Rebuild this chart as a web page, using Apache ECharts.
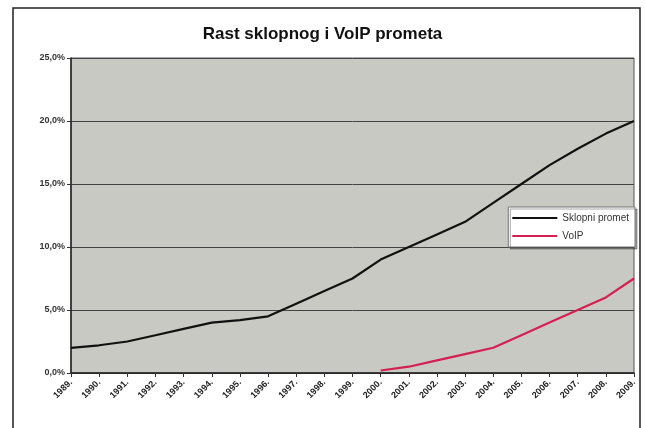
<!DOCTYPE html>
<html>
<head>
<meta charset="utf-8">
<script src="https://cdn.jsdelivr.net/npm/echarts@6/dist/echarts.min.js"></script>
<style>
  html, body { margin: 0; padding: 0; background: #fff; }
  #main { width: 645px; height: 428px; }
</style>
</head>
<body>
<div id="main"></div>
<script>
// godine na x osi
var years = ['1989.', '1990.', '1991.', '1992.', '1993.', '1994.', '1995.', '1996.', '1997.', '1998.',
  '1999.', '2000.', '2001.', '2002.', '2003.', '2004.', '2005.', '2006.', '2007.', '2008.', '2009.'];

// udio prometa u %
var sklopni = [2.0, 2.2, 2.5, 3.0, 3.5, 4.0, 4.2, 4.5, 5.5, 6.5,
  7.5, 9.0, 10.0, 11.0, 12.0, 13.5, 15.0, 16.5, 17.8, 19.0, 20.0];
var voip = ['-', '-', '-', '-', '-', '-', '-', '-', '-', '-',
  '-', 0.2, 0.5, 1.0, 1.5, 2.0, 3.0, 4.0, 5.0, 6.0, 7.5];

var myChart = echarts.init(document.getElementById('main'));

myChart.setOption({
  backgroundColor: '#ffffff',
  animation: false,
  title: {
    text: 'Rast sklopnog i VolP prometa',
    left: 'center',
    top: 21,
    textStyle: {
      fontFamily: 'Liberation Sans',
      fontWeight: 'bold',
      fontSize: 17,
      color: '#111'
    }
  },
  graphic: [
    {
      type: 'rect',
      shape: { x: 13, y: 8, width: 627, height: 440 },
      style: { fill: 'none', stroke: '#222', lineWidth: 1.5 },
      z: 0
    }
  ],
  legend: {
    right: 10,
    top: 207,
    orient: 'vertical',
    itemWidth: 45,
    itemHeight: 2,
    itemGap: 8,
    padding: [6, 6, 6, 4],
    backgroundColor: '#ffffff',
    borderColor: '#777',
    borderWidth: 1,
    shadowColor: 'rgba(0,0,0,0.35)',
    shadowOffsetX: 2,
    shadowOffsetY: 2,
    icon: 'rect',
    textStyle: { fontFamily: 'Liberation Sans', fontSize: 10, color: '#333' },
    data: ['Sklopni promet', 'VoIP']
  },
  grid: {
    left: 71,
    right: 11,
    top: 58,
    bottom: 55,
    show: true,
    backgroundColor: '#c9c9c4',
    borderColor: '#555',
    borderWidth: 1
  },
  xAxis: {
    type: 'category',
    data: years,
    boundaryGap: false,
    axisLine: { lineStyle: { color: '#222', width: 1.5 } },
    axisTick: { show: true, length: 4, lineStyle: { color: '#333' } },
    axisLabel: {
      rotate: 45,
      interval: 0,
      margin: 8,
      fontFamily: 'Liberation Sans',
      fontWeight: 'bold',
      fontSize: 9,
      color: '#222'
    }
  },
  yAxis: {
    type: 'value',
    min: 0,
    max: 25,
    interval: 5,
    axisLine: { show: true, lineStyle: { color: '#222', width: 1.5 } },
    axisTick: { show: true, length: 4, lineStyle: { color: '#333' } },
    splitLine: { lineStyle: { color: '#444', width: 1 } },
    axisLabel: {
      margin: 6,
      fontFamily: 'Liberation Sans',
      fontWeight: 'bold',
      fontSize: 9,
      color: '#333',
      formatter: function (v) { return v.toFixed(1).replace('.', ',') + '%'; }
    }
  },
  series: [
    {
      name: 'Sklopni promet',
      type: 'line',
      data: sklopni,
      symbol: 'none',
      itemStyle: { color: '#111' },
      lineStyle: { color: '#111', width: 2.2 }
    },
    {
      name: 'VoIP',
      type: 'line',
      data: voip,
      symbol: 'none',
      itemStyle: { color: '#d42050' },
      lineStyle: { color: '#d42050', width: 2.2 }
    }
  ]
});
</script>
</body>
</html>
